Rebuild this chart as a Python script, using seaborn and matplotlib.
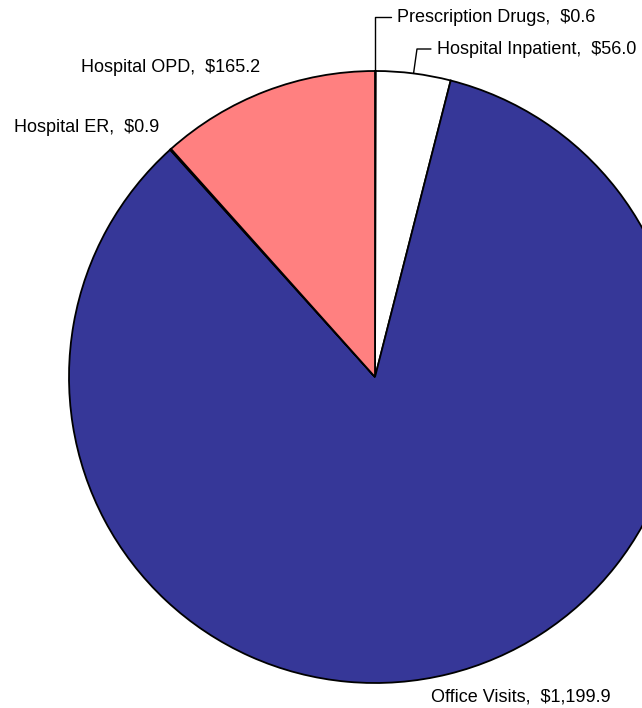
import numpy as np
import matplotlib
matplotlib.use('Agg')
import matplotlib.pyplot as plt
import seaborn as sns

sns.set_style('white')
plt.rcParams['font.family'] = ['Liberation Sans', 'DejaVu Sans']

categories = ['Prescription Drugs', 'Hospital Inpatient', 'Office Visits', 'Hospital ER', 'Hospital OPD']
values = [0.6, 56.0, 1199.9, 0.9, 165.2]
value_labels = ['$0.6', '$56.0', '$1,199.9', '$0.9', '$165.2']
colors = ['#ffffff', '#ffffff', '#363798', '#363798', '#ff8080']

fig = plt.figure(figsize=(6.42, 7.08), dpi=100)
ax = fig.add_axes([0, 0, 1, 1])

cx, cy, r = 375, 331, 306
wedges, _ = ax.pie(
    values,
    colors=colors,
    startangle=90,
    counterclock=False,
    center=(cx, cy),
    radius=r,
    wedgeprops=dict(edgecolor='black', linewidth=1.3),
    frame=True,
)
ax.set_xlim(0, 642)
ax.set_ylim(0, 708)
ax.set_aspect('equal')
ax.axis('off')


def anchor(w):
    a = np.deg2rad((w.theta1 + w.theta2) / 2)
    return cx + r * np.cos(a), cy + r * np.sin(a)


# text positions (pixels, y up)
text_pos = {
    'Prescription Drugs': (397, 691, 'left', 'angle,angleA=0,angleB=90,rad=0'),
    'Hospital Inpatient': (437, 659, 'left', 'angle,angleA=0,angleB=82,rad=0'),
    'Office Visits': (431, 11, 'left', None),
    'Hospital ER': (14, 580, 'left', None),
    'Hospital OPD': (260, 641, 'right', None),
}

for w, cat, vl in zip(wedges, categories, value_labels):
    tx, ty, ha, conn = text_pos[cat]
    label = f'{cat},  {vl}'
    if conn:
        ax.annotate(label, xy=anchor(w), xytext=(tx, ty), ha=ha, va='center',
                    fontsize=13, color='black',
                    arrowprops=dict(arrowstyle='-', color='black', lw=1.0,
                                    connectionstyle=conn, relpos=(0, 0.5),
                                    shrinkA=2, shrinkB=0))
    else:
        ax.text(tx, ty, label, ha=ha, va='center', fontsize=13, color='black')

fig.savefig('out.png', dpi=100)
